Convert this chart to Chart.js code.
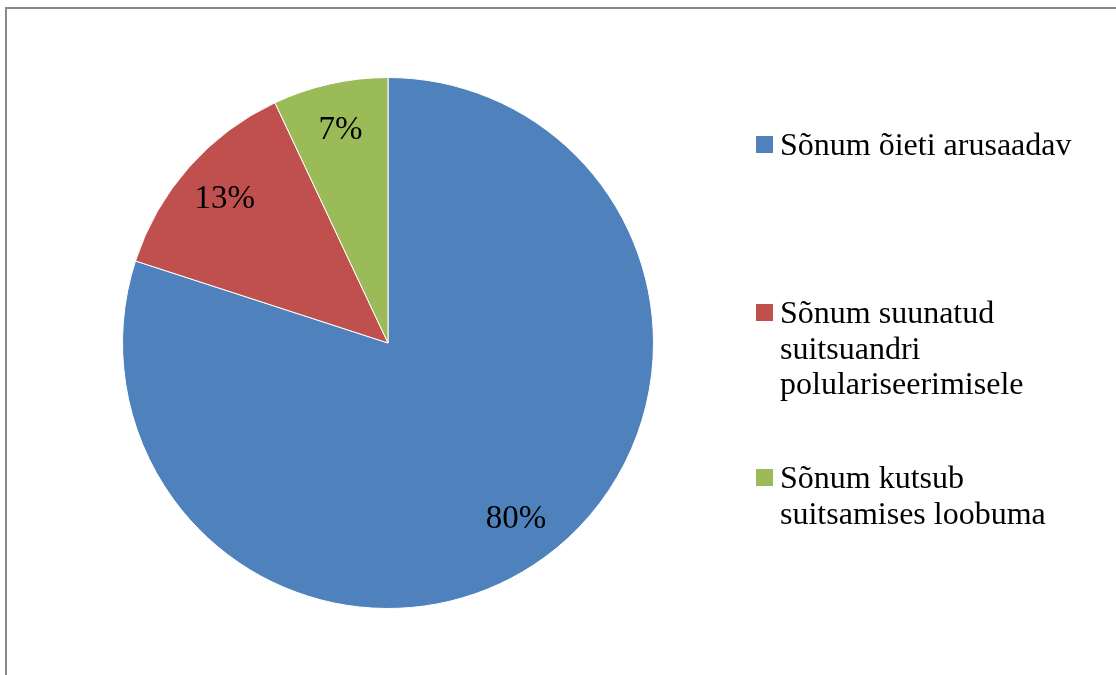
<!DOCTYPE html>
<html>
<head>
<meta charset="utf-8">
<script src="https://cdn.jsdelivr.net/npm/chart.js@4.4.1/dist/chart.umd.min.js"></script>
<style>
  html, body { margin: 0; padding: 0; background: #fff; }
  #wrap { position: relative; width: 1116px; height: 675px; overflow: hidden; background: #fff; }
  #frame { position: absolute; left: 5px; top: 7px; width: 1200px; height: 800px;
           border-left: 2px solid #898989; border-top: 2px solid #898989; }
  canvas { position: absolute; left: 0; top: 0; }
</style>
</head>
<body>
<div id="wrap">
  <div id="frame"></div>
  <canvas id="c" width="1116" height="675"></canvas>
</div>
<script>
// ---- data ----
const categories = [
  ["Sõnum õieti arusaadav"],
  ["Sõnum suunatud", "suitsuandri", "polulariseerimisele"],
  ["Sõnum kutsub", "suitsamises loobuma"]
];
const values = [80, 13, 7];
const sliceColors = ["#4F81BD", "#C0504D", "#9BBB59"];

const FONT = '"Liberation Serif", "Times New Roman", "DejaVu Serif", serif';

const pctLabels = {
  id: 'pctLabels',
  afterDatasetsDraw(chart) {
    const ctx = chart.ctx;
    const meta = chart.getDatasetMeta(0);
    const data = chart.data.datasets[0].data;
    const total = data.reduce((a, b) => a + b, 0);
    ctx.save();
    ctx.font = '33px ' + FONT;
    ctx.fillStyle = '#000';
    ctx.textAlign = 'center';
    ctx.textBaseline = 'middle';
    meta.data.forEach((arc, i) => {
      const p = arc.getProps(['x', 'y', 'startAngle', 'endAngle', 'outerRadius'], true);
      const mid = (p.startAngle + p.endAngle) / 2;
      const r = p.outerRadius * 0.82;
      const txt = Math.round(data[i] / total * 100) + '%';
      ctx.fillText(txt, p.x + Math.cos(mid) * r, p.y + Math.sin(mid) * r);
    });
    ctx.restore();
  }
};

const sideLegend = {
  id: 'sideLegend',
  afterDraw(chart) {
    const ctx = chart.ctx;
    const labels = chart.data.labels;
    const colors = chart.data.datasets[0].backgroundColor;
    const firstBaselines = [155, 323, 488];
    const lineH = 35.5;
    ctx.save();
    ctx.font = '32px ' + FONT;
    ctx.textAlign = 'left';
    ctx.textBaseline = 'alphabetic';
    labels.forEach((lines, i) => {
      const b = firstBaselines[i];
      ctx.fillStyle = colors[i];
      ctx.fillRect(756, b - 19, 17, 17);
      ctx.fillStyle = '#000';
      lines.forEach((ln, j) => ctx.fillText(ln, 780, b + j * lineH));
    });
    ctx.restore();
  }
};

new Chart(document.getElementById('c'), {
  type: 'pie',
  data: {
    labels: categories,
    datasets: [{
      data: values,
      backgroundColor: sliceColors,
      borderColor: '#ffffff',
      borderWidth: 1
    }]
  },
  options: {
    responsive: false,
    animation: false,
    layout: { padding: { left: 122, right: 462, top: 77, bottom: 66 } },
    plugins: {
      legend: { display: false },
      tooltip: { enabled: false },
      title: { display: false }
    }
  },
  plugins: [pctLabels, sideLegend]
});
</script>
</body>
</html>
